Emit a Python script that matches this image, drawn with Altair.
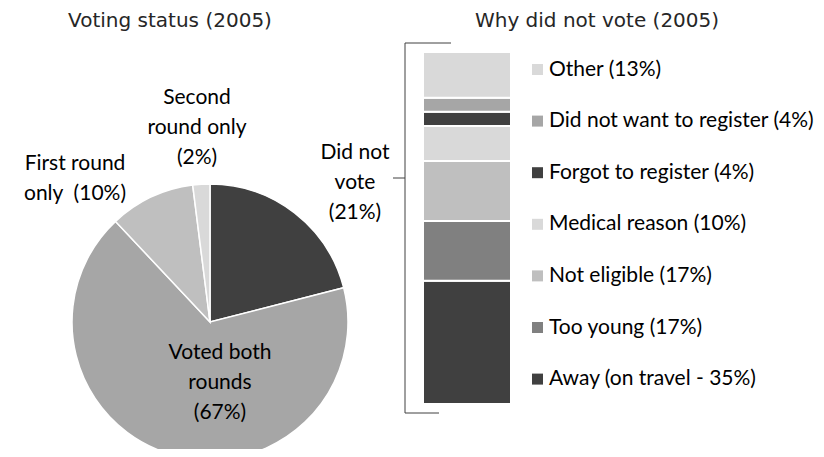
import altair as alt
import pandas as pd

# ---- data ----
status_labels = ["Did not vote", "Voted both rounds", "First round only", "Second round only"]
status_values = [21, 67, 10, 2]
status_colors = ["#404040", "#a6a6a6", "#bfbfbf", "#d9d9d9"]

reason_labels = [
    "Away (on travel - 35%)",
    "Too young (17%)",
    "Not eligible (17%)",
    "Medical reason (10%)",
    "Forgot to register (4%)",
    "Did not want to register (4%)",
    "Other (13%)",
]
reason_values = [35, 17, 17, 10, 4, 4, 13]
reason_colors = ["#404040", "#808080", "#bfbfbf", "#d9d9d9", "#404040", "#a6a6a6", "#d9d9d9"]

titles = ["Voting status (2005)", "Why did not vote (2005)"]
pie_label_lines = [
    ["Did not", "vote", "(21%)"],
    ["Voted both", "rounds", "(67%)"],
    ["First round", "only\u00a0 (10%)"],
    ["Second", "round only", "(2%)"],
]

pie_df = pd.DataFrame({"status": status_labels, "pct": status_values, "idx": list(range(len(status_labels)))})
bar_df = pd.DataFrame({"reason": reason_labels, "pct": reason_values, "idx": list(range(len(reason_labels)))})
one = pd.DataFrame({"k": [0]})

LABEL_FONT = "Lato"
TITLE_FONT = "DejaVu Sans"
LFS = 21

CX, CY, R = 202, 314, 138

pie = alt.Chart(pie_df).mark_arc(outerRadius=R, stroke="white", strokeWidth=1.5).encode(
    theta=alt.Theta("pct:Q", stack=True),
    order=alt.Order("idx:Q"),
    color=alt.Color("status:N", scale=alt.Scale(domain=status_labels, range=status_colors), legend=None),
    x=alt.value(CX),
    y=alt.value(CY),
)

bar = alt.Chart(bar_df).transform_stack(
    stack="pct", groupby=[], as_=["y0", "y1"], sort=[alt.SortField("idx", order="ascending")]
).mark_rect(stroke="white", strokeWidth=2).encode(
    x=alt.value(415),
    x2=alt.value(503),
    y=alt.Y("y0:Q", scale=alt.Scale(domain=[0, 100], range=[396, 44]), axis=None),
    y2="y1:Q",
    color=alt.Color(
        "reason:N",
        scale=alt.Scale(domain=list(reversed(reason_labels)), range=list(reversed(reason_colors))),
        legend=alt.Legend(
            orient="none", legendX=519, legendY=51, direction="vertical", title=None,
            symbolType="square", symbolSize=121, symbolStrokeWidth=0,
            labelFont=LABEL_FONT, labelFontSize=LFS, labelColor="#000000",
            rowPadding=29.6, labelOffset=1, labelLimit=400,
        ),
    ),
)

def rule(x, x2, y, y2):
    return alt.Chart(one).mark_rule(color="#404040", strokeWidth=1).encode(
        x=alt.value(x), x2=alt.value(x2), y=alt.value(y), y2=alt.value(y2)
    )

bracket = [
    rule(397, 397, 35, 405),
    rule(397, 443, 35, 35),
    rule(397, 431, 405, 405),
    rule(385, 397, 170, 170),
]

def txt(lines, x, y, font=LABEL_FONT, size=LFS, color="#000000"):
    return alt.Chart(one).mark_text(
        font=font, fontSize=size, color=color, align="center", baseline="middle", lineHeight=30
    ).encode(x=alt.value(x), y=alt.value(y), text=alt.value(lines))

texts = [
    txt(titles[0], 162, 13, font=TITLE_FONT, size=20, color="#262626"),
    txt(titles[1], 589, 13, font=TITLE_FONT, size=20, color="#262626"),
    txt(pie_label_lines[0], 347, 145),
    txt(pie_label_lines[1], 212, 345),
    txt(pie_label_lines[2], 67, 156),
    txt(pie_label_lines[3], 189, 90),
]

chart = alt.layer(pie, bar, *bracket, *texts).resolve_scale(color="independent").properties(
    width=808, height=441, autosize="none", padding=0
).configure_view(stroke=None)

chart.save("out.html", embed_options={"renderer": "svg", "actions": False})
